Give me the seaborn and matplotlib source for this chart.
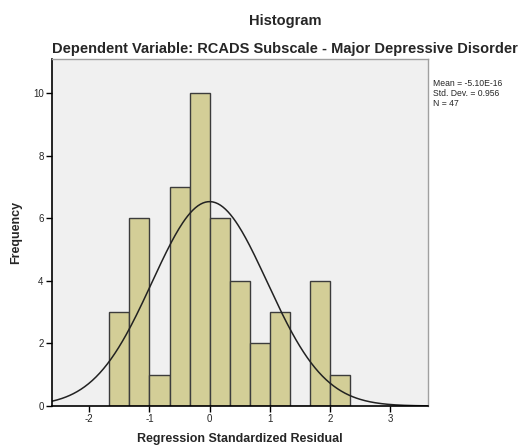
import numpy as np
import pandas as pd
import seaborn as sns
import matplotlib
import matplotlib.pyplot as plt

matplotlib.use("Agg")

# histogram bins (regression standardized residual) and frequencies
bin_edges = [-5 / 3, -4 / 3, -1, -2 / 3, -1 / 3, 0, 1 / 3, 2 / 3, 1, 4 / 3, 5 / 3, 2, 7 / 3]
counts = [3, 6, 1, 7, 10, 6, 4, 2, 3, 0, 4, 1]
mean_val = -5.10e-16
sd_val = 0.956
n_val = 47

x_ticks = [-2, -1, 0, 1, 2, 3]
y_ticks = [0, 2, 4, 6, 8, 10]


def main():
    sns.set_theme(style="white")
    plt.rcParams["font.family"] = ["Liberation Sans", "DejaVu Sans"]
    plt.rcParams["axes.unicode_minus"] = False

    centers = [(a + b) / 2 for a, b in zip(bin_edges[:-1], bin_edges[1:])]
    df = pd.DataFrame({"resid": centers, "freq": counts})

    fig = plt.figure(figsize=(5.19, 4.46), dpi=100)
    ax = fig.add_axes([0.1002, 0.0897, 0.7245, 0.7780])
    ax.set_facecolor("#F0F0F0")

    sns.histplot(data=df, x="resid", weights="freq", bins=bin_edges,
                 color="#D3CE97", edgecolor="#3C3C3C", linewidth=1.0,
                 alpha=1, ax=ax)

    # normal curve scaled to the histogram
    width = bin_edges[1] - bin_edges[0]
    xs = np.linspace(-2.62, 3.63, 300)
    ys = n_val * width / (sd_val * np.sqrt(2 * np.pi)) * np.exp(-0.5 * ((xs - mean_val) / sd_val) ** 2)
    sns.lineplot(x=xs, y=ys, color="#222222", linewidth=1.1, ax=ax)

    ax.set_xlim(-2.62, 3.63)
    ax.set_ylim(0, 11.1)
    ax.set_xticks(x_ticks)
    ax.set_yticks(y_ticks)
    ax.tick_params(axis="both", which="both", direction="out", length=4,
                   width=1, color="black", labelsize=7, pad=2, bottom=True, left=True)
    ax.set_xlabel("Regression Standardized Residual", fontsize=9, fontweight="bold", labelpad=6)
    ax.set_ylabel("Frequency", fontsize=9, fontweight="bold", labelpad=8)

    for side in ["left", "bottom"]:
        ax.spines[side].set_color("black")
        ax.spines[side].set_linewidth(1.2)
    for side in ["top", "right"]:
        ax.spines[side].set_color("#A0A0A0")
        ax.spines[side].set_linewidth(1.0)

    fig.text(0.549, 0.952, "Histogram", ha="center", va="center",
             fontsize=10.5, fontweight="bold")
    fig.text(0.549, 0.890, "Dependent Variable: RCADS Subscale - Major Depressive Disorder",
             ha="center", va="center", fontsize=10.5, fontweight="bold")

    fig.text(0.834, 0.822, "Mean = -5.10E-16\nStd. Dev. = 0.956\nN = 47",
             ha="left", va="top", fontsize=6.2, linespacing=1.15)

    fig.savefig("out.png", dpi=100, facecolor="white")


if __name__ == "__main__":
    main()
